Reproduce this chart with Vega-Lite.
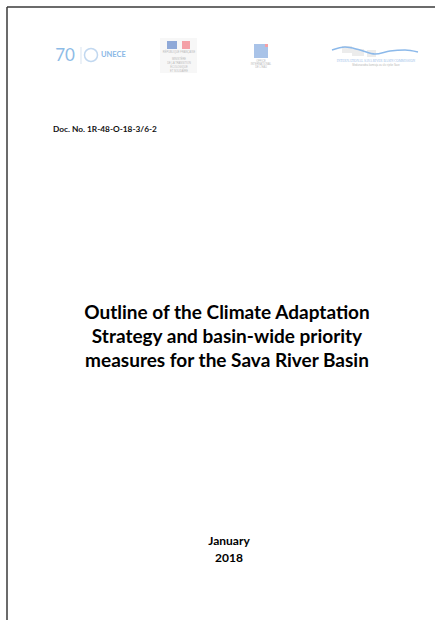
{
  "$schema": "https://vega.github.io/schema/vega-lite/v6.json",
  "width": 435,
  "height": 620,
  "autosize": "none",
  "padding": 0,
  "background": "white",
  "config": {"view": {"stroke": null}, "axis": {"disable": true}},
  "datasets": {
    "borders": [
      {"x": 7, "y": 7, "x2": 435, "y2": 7},
      {"x": 7, "y": 7, "x2": 7, "y2": 620}
    ],
    "texts": [
      {"x": 53, "y": 130, "text": "Doc. No. 1R-48-O-18-3/6-2", "kind": "doc"},
      {"x": 227, "y": 313, "text": "Outline of the Climate Adaptation", "kind": "title"},
      {"x": 227, "y": 337, "text": "Strategy and basin-wide priority", "kind": "title"},
      {"x": 227, "y": 361, "text": "measures for the Sava River Basin", "kind": "title"},
      {"x": 229, "y": 541, "text": "January", "kind": "date"},
      {"x": 229, "y": 558, "text": "2018", "kind": "date"}
    ],
    "logoRects": [
      {"x": 160, "y": 38, "x2": 197, "y2": 73, "c": "frame"},
      {"x": 167, "y": 41, "x2": 177, "y2": 49, "c": "blue"},
      {"x": 182, "y": 41, "x2": 190, "y2": 49, "c": "red"},
      {"x": 254, "y": 44, "x2": 268, "y2": 58, "c": "lightblue"},
      {"x": 265, "y": 44, "x2": 268, "y2": 47, "c": "red"},
      {"x": 342, "y": 46, "x2": 352, "y2": 53, "c": "grey"},
      {"x": 352, "y": 49, "x2": 364, "y2": 56, "c": "grey"},
      {"x": 367, "y": 50, "x2": 376, "y2": 57, "c": "grey"}
    ],
    "logoTexts": [
      {"x": 65, "y": 56, "text": "70", "kind": "seventy"},
      {"x": 101, "y": 55, "text": "UNECE", "kind": "unece"},
      {"x": 179, "y": 52, "text": "RÉPUBLIQUE FRANÇAISE", "kind": "tiny"},
      {"x": 179, "y": 59, "text": "MINISTÈRE", "kind": "tiny"},
      {"x": 179, "y": 63, "text": "DE LA TRANSITION", "kind": "tiny"},
      {"x": 179, "y": 67, "text": "ÉCOLOGIQUE", "kind": "tiny"},
      {"x": 179, "y": 71, "text": "ET SOLIDAIRE", "kind": "tiny"},
      {"x": 261, "y": 61, "text": "OFFICE", "kind": "tiny"},
      {"x": 261, "y": 64, "text": "INTERNATIONAL", "kind": "tiny"},
      {"x": 261, "y": 67, "text": "DE L'EAU", "kind": "tiny"},
      {"x": 376, "y": 61, "text": "INTERNATIONAL SAVA RIVER BASIN COMMISSION", "kind": "isrbc"},
      {"x": 376, "y": 65, "text": "Međunarodna komisija za sliv rijeke Save", "kind": "tiny2"}
    ],
    "wave": [
      {"x": 332, "y": 50, "s": 1},
      {"x": 345, "y": 47, "s": 2},
      {"x": 360, "y": 50, "s": 3},
      {"x": 375, "y": 54, "s": 4},
      {"x": 390, "y": 51, "s": 5},
      {"x": 405, "y": 50, "s": 6},
      {"x": 418, "y": 52, "s": 7}
    ],
    "marks": [
      {"x": 91, "y": 55}
    ],
    "sep": [
      {"x": 81, "y": 47, "x2": 81, "y2": 64}
    ]
  },
  "layer": [
    {
      "data": {"name": "borders"},
      "mark": {"type": "rule", "color": "#3a3a3a", "strokeWidth": 1.5},
      "encoding": {
        "x": {"field": "x", "type": "quantitative", "scale": {"domain": [0, 435], "nice": false, "zero": false}},
        "y": {"field": "y", "type": "quantitative", "scale": {"domain": [0, 620], "nice": false, "zero": false, "reverse": true}},
        "x2": {"field": "x2"},
        "y2": {"field": "y2"}
      }
    },
    {
      "data": {"name": "sep"},
      "mark": {"type": "rule", "color": "#c8d8ea", "strokeWidth": 0.7},
      "encoding": {
        "x": {"field": "x", "type": "quantitative"},
        "y": {"field": "y", "type": "quantitative"},
        "x2": {"field": "x2"},
        "y2": {"field": "y2"}
      }
    },
    {
      "data": {"name": "logoRects"},
      "mark": {"type": "rect"},
      "encoding": {
        "x": {"field": "x", "type": "quantitative"},
        "y": {"field": "y", "type": "quantitative"},
        "x2": {"field": "x2"},
        "y2": {"field": "y2"},
        "color": {
          "field": "c", "type": "nominal", "legend": null,
          "scale": {"domain": ["frame", "blue", "red", "lightblue", "grey"], "range": ["#f7f7f7", "#8fa9d8", "#f4a0a6", "#a9c3e8", "#ececec"]}
        }
      }
    },
    {
      "data": {"name": "wave"},
      "mark": {"type": "line", "color": "#8cb9ea", "strokeWidth": 1.5, "interpolate": "monotone"},
      "encoding": {
        "x": {"field": "x", "type": "quantitative"},
        "y": {"field": "y", "type": "quantitative"},
        "order": {"field": "s"}
      }
    },
    {
      "data": {"name": "marks"},
      "mark": {"type": "point", "shape": "circle", "size": 170, "color": "#a8c8ea", "strokeWidth": 1.5, "filled": false},
      "encoding": {
        "x": {"field": "x", "type": "quantitative"},
        "y": {"field": "y", "type": "quantitative"}
      }
    },
    {
      "data": {"name": "logoTexts"},
      "transform": [{"filter": "datum.kind == 'seventy'"}],
      "mark": {"type": "text", "font": "Lato", "fontSize": 17, "fontWeight": "normal", "color": "#8dbbe6", "align": "center", "baseline": "middle"},
      "encoding": {
        "x": {"field": "x", "type": "quantitative"},
        "y": {"field": "y", "type": "quantitative"},
        "text": {"field": "text"}
      }
    },
    {
      "data": {"name": "logoTexts"},
      "transform": [{"filter": "datum.kind == 'unece'"}],
      "mark": {"type": "text", "font": "Lato", "fontSize": 7.5, "fontWeight": "bold", "color": "#8ab8e6", "align": "left", "baseline": "middle", "letterSpacing": 1},
      "encoding": {
        "x": {"field": "x", "type": "quantitative"},
        "y": {"field": "y", "type": "quantitative"},
        "text": {"field": "text"}
      }
    },
    {
      "data": {"name": "logoTexts"},
      "transform": [{"filter": "datum.kind == 'tiny' || datum.kind == 'tiny2'"}],
      "mark": {"type": "text", "font": "Liberation Sans", "fontSize": 2.6, "color": "#b8b8b8", "align": "center", "baseline": "middle"},
      "encoding": {
        "x": {"field": "x", "type": "quantitative"},
        "y": {"field": "y", "type": "quantitative"},
        "text": {"field": "text"}
      }
    },
    {
      "data": {"name": "logoTexts"},
      "transform": [{"filter": "datum.kind == 'isrbc'"}],
      "mark": {"type": "text", "font": "Liberation Sans Narrow", "fontSize": 3.3, "color": "#9cc0ea", "align": "center", "baseline": "middle"},
      "encoding": {
        "x": {"field": "x", "type": "quantitative"},
        "y": {"field": "y", "type": "quantitative"},
        "text": {"field": "text"}
      }
    },
    {
      "data": {"name": "texts"},
      "transform": [{"filter": "datum.kind == 'doc'"}],
      "mark": {"type": "text", "font": "Lato", "fontSize": 8.3, "fontWeight": "bold", "color": "#111111", "align": "left", "baseline": "middle"},
      "encoding": {
        "x": {"field": "x", "type": "quantitative"},
        "y": {"field": "y", "type": "quantitative"},
        "text": {"field": "text"}
      }
    },
    {
      "data": {"name": "texts"},
      "transform": [{"filter": "datum.kind == 'title'"}],
      "mark": {"type": "text", "font": "Lato", "fontSize": 19, "fontWeight": "bold", "color": "#000000", "align": "center", "baseline": "middle"},
      "encoding": {
        "x": {"field": "x", "type": "quantitative"},
        "y": {"field": "y", "type": "quantitative"},
        "text": {"field": "text"}
      }
    },
    {
      "data": {"name": "texts"},
      "transform": [{"filter": "datum.kind == 'date'"}],
      "mark": {"type": "text", "font": "Lato", "fontSize": 12, "fontWeight": "bold", "color": "#000000", "align": "center", "baseline": "middle"},
      "encoding": {
        "x": {"field": "x", "type": "quantitative"},
        "y": {"field": "y", "type": "quantitative"},
        "text": {"field": "text"}
      }
    }
  ]
}
